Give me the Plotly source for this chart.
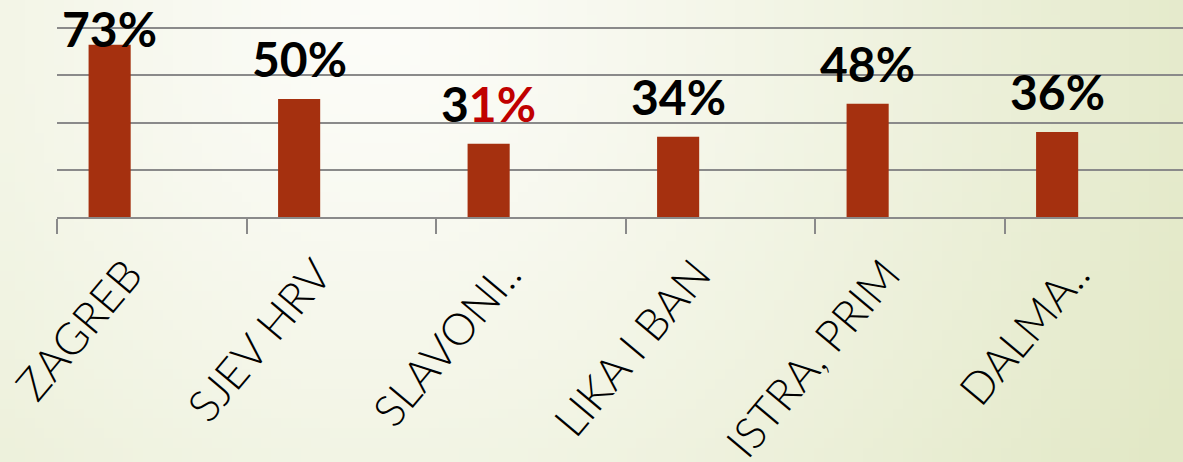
import base64, struct, zlib
import plotly.graph_objects as go

# ---- data ----
categories = ["ZAGREB", "SJEV HRV", "SLAVONI..", "LIKA I BAN", "ISTRA, PRIM", "DALMA.."]
values = [73, 50, 31, 34, 48, 36]
value_labels = ["73%", "50%", "3<span style='color:#c00000'>1%</span>", "34%", "48%", "36%"]
y_ticks = [0, 20, 40, 60, 80]

# ---- geometry / style ----
W, H = 1183, 462
YMAX = 80
PAD = 0.5                       # small headroom so the 80 gridline is drawn
PPU = 189 / YMAX                # pixels per percent
ML, MB = 57, 245
MT = 28 - int(round(PAD * PPU))
PW = W - ML
CAT_PX = 189.5
BAR_COLOR = "#a5300f"
GRID = "#8a8a8a"
PH = H - MT - MB


def png_uri(w, h, fn):
    raw = b""
    for j in range(h):
        raw += b"\x00" + b"".join(bytes(fn(i, j)) for i in range(w))
    def chunk(t, d):
        c = struct.pack(">I", len(d)) + t + d
        return c + struct.pack(">I", zlib.crc32(t + d) & 0xffffffff)
    png = b"\x89PNG\r\n\x1a\n" + chunk(b"IHDR", struct.pack(">IIBBBBB", w, h, 8, 2, 0, 0, 0))
    png += chunk(b"IDAT", zlib.compress(raw, 9)) + chunk(b"IEND", b"")
    return "data:image/png;base64," + base64.b64encode(png).decode()


c0 = (252, 252, 248)
c1 = (226, 232, 198)
GW, GH = 120, 47
def grad(i, j):
    x = (i + 0.5) * W / GW
    y = (j + 0.5) * H / GH
    r = ((x - 380) ** 2 + (y - 40) ** 2) ** 0.5
    t = min(1.0, r / 880) ** 1.25
    return tuple(int(round(a + (b - a) * t)) for a, b in zip(c0, c1))

bg = png_uri(GW, GH, grad)

fig = go.Figure()
fig.add_trace(go.Bar(
    x=categories, y=values,
    width=2 / 9, offset=-1 / 3,
    marker=dict(color=BAR_COLOR, line=dict(width=0)),
    hoverinfo="skip",
))

# value labels above bars (pushed down when they'd leave the canvas)
cap_px = 189 - 19
for i, (v, lab) in enumerate(zip(values, value_labels)):
    desired = min(v * PPU + 22, cap_px)
    fig.add_annotation(
        x=i - 1 / 3 + 1 / 9, y=v, xref="x", yref="y",
        text=lab, showarrow=False, xanchor="center", yanchor="bottom",
        yshift=desired - v * PPU - 12,
        font=dict(family="Lato", size=48, color="black", weight="bold"),
    )

fig.add_layout_image(
    source=bg, xref="paper", yref="paper",
    x=-ML / PW, y=1 + MT / PH, sizex=W / PW, sizey=H / PH,
    xanchor="left", yanchor="top", sizing="stretch", layer="below",
)

fig.update_layout(
    width=W, height=H,
    margin=dict(l=ML, r=0, t=MT, b=MB, pad=0),
    paper_bgcolor="#f6f7ee", plot_bgcolor="rgba(0,0,0,0)",
    showlegend=False,
    xaxis=dict(
        type="category", range=[-0.5, -0.5 + PW / CAT_PX],
        showgrid=False, zeroline=False,
        showline=True, linecolor=GRID, linewidth=2,
        ticks="outside", tickson="boundaries", ticklen=15, tickwidth=2, tickcolor=GRID,
        tickangle=-50, ticklabelshift=-24, ticklabelstandoff=12,
        tickfont=dict(family="Lato", size=44, color="black", weight=300),
        automargin=False,
    ),
    yaxis=dict(
        range=[0, YMAX + PAD], tickvals=y_ticks, showticklabels=False,
        showgrid=True, gridcolor=GRID, gridwidth=2,
        zeroline=False, showline=False, ticks="", automargin=False,
    ),
)

fig.write_html(
    "out.html",
    config={"displayModeBar": False, "staticPlot": True},
    post_script="document.body.style.margin='0';document.body.style.overflow='hidden';",
)
